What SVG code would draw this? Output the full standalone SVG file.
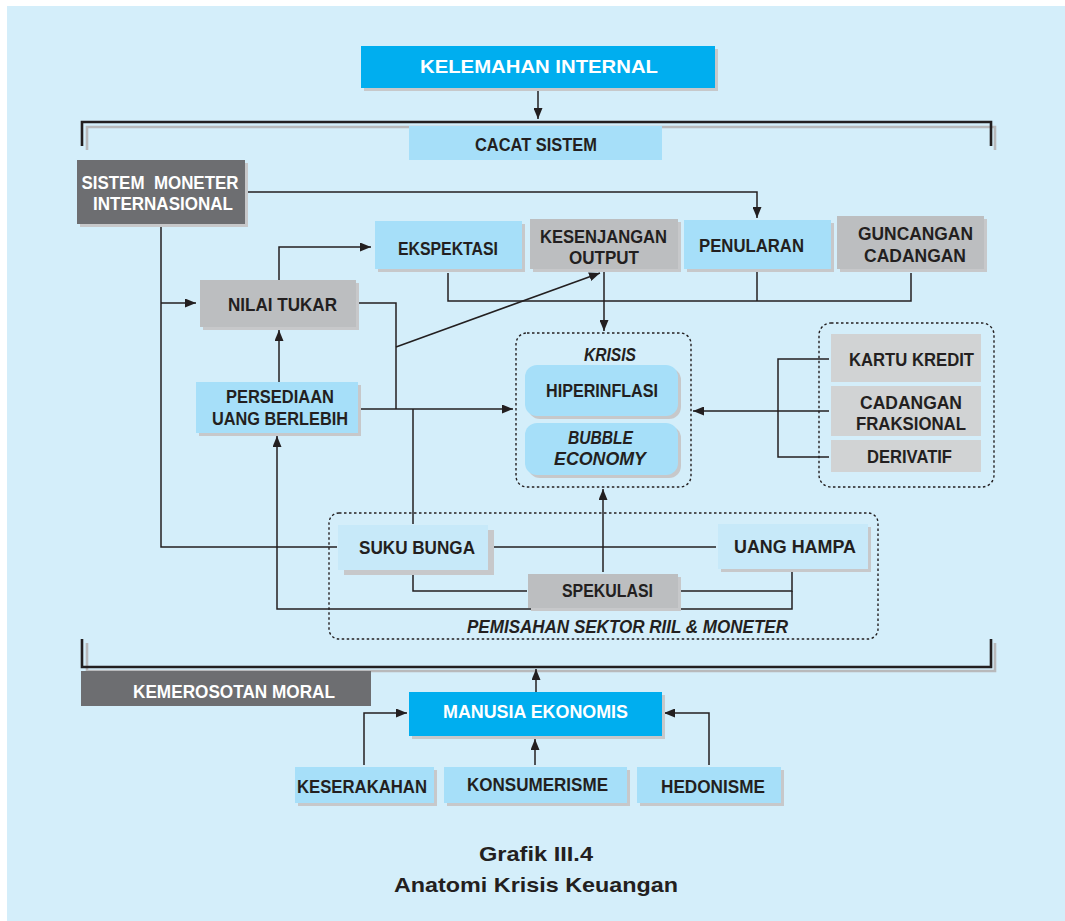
<svg xmlns="http://www.w3.org/2000/svg" width="1065" height="921" viewBox="0 0 1065 921">
  <defs>
    <marker id="arr" markerUnits="userSpaceOnUse" markerWidth="11" markerHeight="9" refX="11" refY="4.5" orient="auto">
      <path d="M0,0 L11,4.5 L0,9 z" fill="#231f20"/>
    </marker>
    <style>
      .t { font-family: "Liberation Sans", "Open Sans", Arial, sans-serif; font-weight: 700; font-size: 19px; fill: #231f20; }
      .two { font-size: 18.5px; }
      .w { fill: #ffffff; }
      .i { font-style: italic; }
      .cap { font-size: 21px; }
      .sh { fill: #c7c8ca; }
      .cyan { fill: #00aeef; }
      .lb { fill: #a6dff9; }
      .pb { fill: #c7e9f9; }
      .gr { fill: #bcbec0; }
      .lg { fill: #d1d3d4; }
      .dg { fill: #6d6e71; }
      .ln { fill: none; stroke: #231f20; stroke-width: 1.5; }
      .ar { fill: none; stroke: #231f20; stroke-width: 1.5; marker-end: url(#arr); }
      .dash { fill: none; stroke: #231f20; stroke-width: 1.4; stroke-dasharray: 2.5 2.5; }
      .br { fill: none; stroke: #231f20; stroke-width: 2.6; }
      .brs { fill: none; stroke: #b8b9bb; stroke-width: 2.6; }
    </style>
  </defs>

  <!-- page background -->
  <rect x="0" y="0" width="1065" height="921" fill="#ffffff"/>
  <rect x="7" y="6" width="1058" height="915" fill="#d4eefa"/>

  <!-- brackets framing the system and moral sections -->
  <g id="brackets">
    <path class="brs" d="M87,150 V127 H995 V150"/>
    <path class="br" d="M82,146 V122 H991 V146"/>
    <path class="brs" d="M87,643 V671 H995 V643"/>
    <path class="br" d="M82,639 V667 H991 V639"/>
  </g>

  <!-- connectors -->
  <g id="connectors">
    <path class="ar" d="M538,88 V119"/>
    <path class="ar" d="M245,192 H757 V218"/>
    <path class="ln" d="M161,224 V547 H337"/>
    <path class="ar" d="M161,303 H196"/>
    <path class="ar" d="M279,280 V247 H371"/>
    <path class="ln" d="M359,303 H396 V409"/>
    <path class="ar" d="M396,347 L600,273"/>
    <path class="ar" d="M279,382 V330"/>
    <path class="ar" d="M360,409 H513"/>
    <path class="ln" d="M413,409 V524"/>
    <path class="ln" d="M448,273 V301 H911 V273"/>
    <path class="ln" d="M757,269 V301"/>
    <path class="ar" d="M604,269 V331"/>
    <path class="ln" d="M829,359 H778 V457 H829"/>
    <path class="ar" d="M829,411 H693"/>
    <path class="ln" d="M490,547 H716"/>
    <path class="ar" d="M603,572 V489"/>
    <path class="ln" d="M413,572 V591 H527"/>
    <path class="ln" d="M680,591 H792 V571"/>
    <path class="ar" d="M792,591 V609 H277 V436"/>
    <path class="ar" d="M536,692 V669"/>
    <path class="ar" d="M364,765 V713 H407"/>
    <path class="ar" d="M535,765 V739"/>
    <path class="ar" d="M709,765 V713 H664"/>
  </g>

  <g id="kelemahan-internal">
    <rect class="sh" x="364" y="49" width="354" height="42"/>
    <rect class="cyan" x="361" y="46" width="354" height="42"/>
    <text class="t w" x="539" y="73" text-anchor="middle" font-size="22" textLength="238" lengthAdjust="spacingAndGlyphs">KELEMAHAN INTERNAL</text>
  </g>

  <g id="cacat-sistem">
    <rect class="lb" x="409" y="126" width="253" height="34"/>
    <text class="t" x="536" y="151" text-anchor="middle" textLength="122" lengthAdjust="spacingAndGlyphs">CACAT SISTEM</text>
  </g>

  <g id="sistem-moneter">
    <rect class="sh" x="80" y="163" width="168" height="64"/>
    <rect class="dg" x="77" y="160" width="168" height="64"/>
    <text class="t two w" x="160" y="189" text-anchor="middle" textLength="157" lengthAdjust="spacingAndGlyphs">SISTEM&#160; MONETER</text>
    <text class="t two w" x="163" y="210" text-anchor="middle" textLength="140" lengthAdjust="spacingAndGlyphs">INTERNASIONAL</text>
  </g>

  <g id="ekspektasi">
    <rect class="sh" x="378" y="224" width="147" height="48"/>
    <rect class="lb" x="375" y="221" width="147" height="48"/>
    <text class="t" x="448" y="255" text-anchor="middle" textLength="100" lengthAdjust="spacingAndGlyphs">EKSPEKTASI</text>
  </g>

  <g id="kesenjangan-output">
    <rect class="sh" x="533" y="222" width="148" height="50"/>
    <rect class="gr" x="530" y="219" width="148" height="50"/>
    <text class="t two" x="603.5" y="243" text-anchor="middle" textLength="127" lengthAdjust="spacingAndGlyphs">KESENJANGAN</text>
    <text class="t two" x="604" y="264" text-anchor="middle" textLength="70" lengthAdjust="spacingAndGlyphs">OUTPUT</text>
  </g>

  <g id="penularan">
    <rect class="sh" x="687" y="223" width="147" height="49"/>
    <rect class="lb" x="684" y="220" width="147" height="49"/>
    <text class="t" x="751.5" y="252" text-anchor="middle" textLength="105" lengthAdjust="spacingAndGlyphs">PENULARAN</text>
  </g>

  <g id="guncangan-cadangan">
    <rect class="sh" x="840" y="219" width="147" height="53"/>
    <rect class="gr" x="837" y="216" width="147" height="53"/>
    <text class="t two" x="915.5" y="240" text-anchor="middle" textLength="115" lengthAdjust="spacingAndGlyphs">GUNCANGAN</text>
    <text class="t two" x="915" y="262" text-anchor="middle" textLength="102" lengthAdjust="spacingAndGlyphs">CADANGAN</text>
  </g>

  <g id="nilai-tukar">
    <rect class="sh" x="203" y="283" width="156" height="47"/>
    <rect class="gr" x="200" y="280" width="156" height="47"/>
    <text class="t" x="282.5" y="311" text-anchor="middle" textLength="109" lengthAdjust="spacingAndGlyphs">NILAI TUKAR</text>
  </g>

  <g id="persediaan-uang">
    <rect class="sh" x="199" y="385" width="162" height="51"/>
    <rect class="lb" x="196" y="382" width="162" height="51"/>
    <text class="t two" x="280" y="403" text-anchor="middle" textLength="108" lengthAdjust="spacingAndGlyphs">PERSEDIAAN</text>
    <text class="t two" x="280" y="425" text-anchor="middle" textLength="136" lengthAdjust="spacingAndGlyphs">UANG BERLEBIH</text>
  </g>

  <g id="krisis">
    <rect class="dash" x="516" y="333" width="175" height="154" rx="11"/>
    <text class="t i" x="610" y="361" text-anchor="middle" textLength="52" lengthAdjust="spacingAndGlyphs">KRISIS</text>
  </g>

  <g id="hiperinflasi">
    <rect class="sh" x="528" y="368" width="153" height="51" rx="12"/>
    <rect class="lb" x="525" y="365" width="153" height="51" rx="12"/>
    <text class="t" x="602" y="397" text-anchor="middle" textLength="112" lengthAdjust="spacingAndGlyphs">HIPERINFLASI</text>
  </g>

  <g id="bubble-economy">
    <rect class="sh" x="528" y="426" width="153" height="52" rx="12"/>
    <rect class="lb" x="525" y="423" width="153" height="52" rx="12"/>
    <text class="t two i" x="600.5" y="444" text-anchor="middle" textLength="65" lengthAdjust="spacingAndGlyphs">BUBBLE</text>
    <text class="t two i" x="600" y="465" text-anchor="middle" textLength="92" lengthAdjust="spacingAndGlyphs">ECONOMY</text>
  </g>

  <g id="instrumen">
    <rect class="dash" x="819" y="323" width="175" height="164" rx="12"/>
  </g>

  <g id="kartu-kredit">
    <rect class="lg" x="831" y="334" width="150" height="48"/>
    <text class="t" x="911.5" y="366" text-anchor="middle" textLength="125" lengthAdjust="spacingAndGlyphs">KARTU KREDIT</text>
  </g>

  <g id="cadangan-fraksional">
    <rect class="lg" x="831" y="386" width="150" height="50"/>
    <text class="t two" x="911" y="409" text-anchor="middle" textLength="102" lengthAdjust="spacingAndGlyphs">CADANGAN</text>
    <text class="t two" x="911" y="430" text-anchor="middle" textLength="110" lengthAdjust="spacingAndGlyphs">FRAKSIONAL</text>
  </g>

  <g id="derivatif">
    <rect class="lg" x="831" y="440" width="150" height="32"/>
    <text class="t" x="909.5" y="463" text-anchor="middle" textLength="85" lengthAdjust="spacingAndGlyphs">DERIVATIF</text>
  </g>

  <g id="pemisahan-sektor">
    <rect class="dash" x="329" y="513" width="549" height="126" rx="10"/>
    <text class="t i" x="627.5" y="633" text-anchor="middle" font-size="18" textLength="321" lengthAdjust="spacingAndGlyphs">PEMISAHAN SEKTOR RIIL &amp; MONETER</text>
  </g>

  <g id="suku-bunga">
    <rect class="sh" x="344" y="530" width="150" height="45"/>
    <rect class="pb" x="338" y="525" width="150" height="45"/>
    <text class="t" x="417" y="554" text-anchor="middle" textLength="116" lengthAdjust="spacingAndGlyphs">SUKU BUNGA</text>
  </g>

  <g id="uang-hampa">
    <rect class="sh" x="721" y="527" width="150" height="45"/>
    <rect class="pb" x="718" y="524" width="150" height="45"/>
    <text class="t" x="795" y="553" text-anchor="middle" textLength="122" lengthAdjust="spacingAndGlyphs">UANG HAMPA</text>
  </g>

  <g id="spekulasi">
    <rect class="sh" x="531" y="577" width="150" height="34"/>
    <rect class="gr" x="528" y="574" width="150" height="34"/>
    <text class="t" x="607.5" y="597" text-anchor="middle" textLength="91" lengthAdjust="spacingAndGlyphs">SPEKULASI</text>
  </g>

  <g id="kemerosotan-moral">
    <rect class="dg" x="81" y="671" width="290" height="35"/>
    <text class="t w" x="234" y="698" text-anchor="middle" textLength="202" lengthAdjust="spacingAndGlyphs">KEMEROSOTAN MORAL</text>
  </g>

  <g id="manusia-ekonomis">
    <rect class="sh" x="412" y="695" width="253" height="44"/>
    <rect class="cyan" x="409" y="692" width="253" height="44"/>
    <text class="t w" x="535.5" y="718" text-anchor="middle" textLength="185" lengthAdjust="spacingAndGlyphs">MANUSIA EKONOMIS</text>
  </g>

  <g id="keserakahan">
    <rect class="sh" x="298" y="770" width="139" height="36"/>
    <rect class="lb" x="295" y="767" width="139" height="36"/>
    <text class="t" x="362" y="793" text-anchor="middle" textLength="130" lengthAdjust="spacingAndGlyphs">KESERAKAHAN</text>
  </g>

  <g id="konsumerisme">
    <rect class="sh" x="447" y="770" width="183" height="36"/>
    <rect class="lb" x="444" y="767" width="183" height="36"/>
    <text class="t" x="537.5" y="791" text-anchor="middle" textLength="141" lengthAdjust="spacingAndGlyphs">KONSUMERISME</text>
  </g>

  <g id="hedonisme">
    <rect class="sh" x="640" y="770" width="144" height="36"/>
    <rect class="lb" x="637" y="767" width="144" height="36"/>
    <text class="t" x="713" y="793" text-anchor="middle" textLength="104" lengthAdjust="spacingAndGlyphs">HEDONISME</text>
  </g>

  <!-- caption -->
  <g id="caption">
    <text class="t cap" x="536" y="861" text-anchor="middle" textLength="114" lengthAdjust="spacingAndGlyphs">Grafik III.4</text>
    <text class="t cap" x="536" y="892" text-anchor="middle" textLength="284" lengthAdjust="spacingAndGlyphs">Anatomi Krisis Keuangan</text>
  </g>
</svg>
